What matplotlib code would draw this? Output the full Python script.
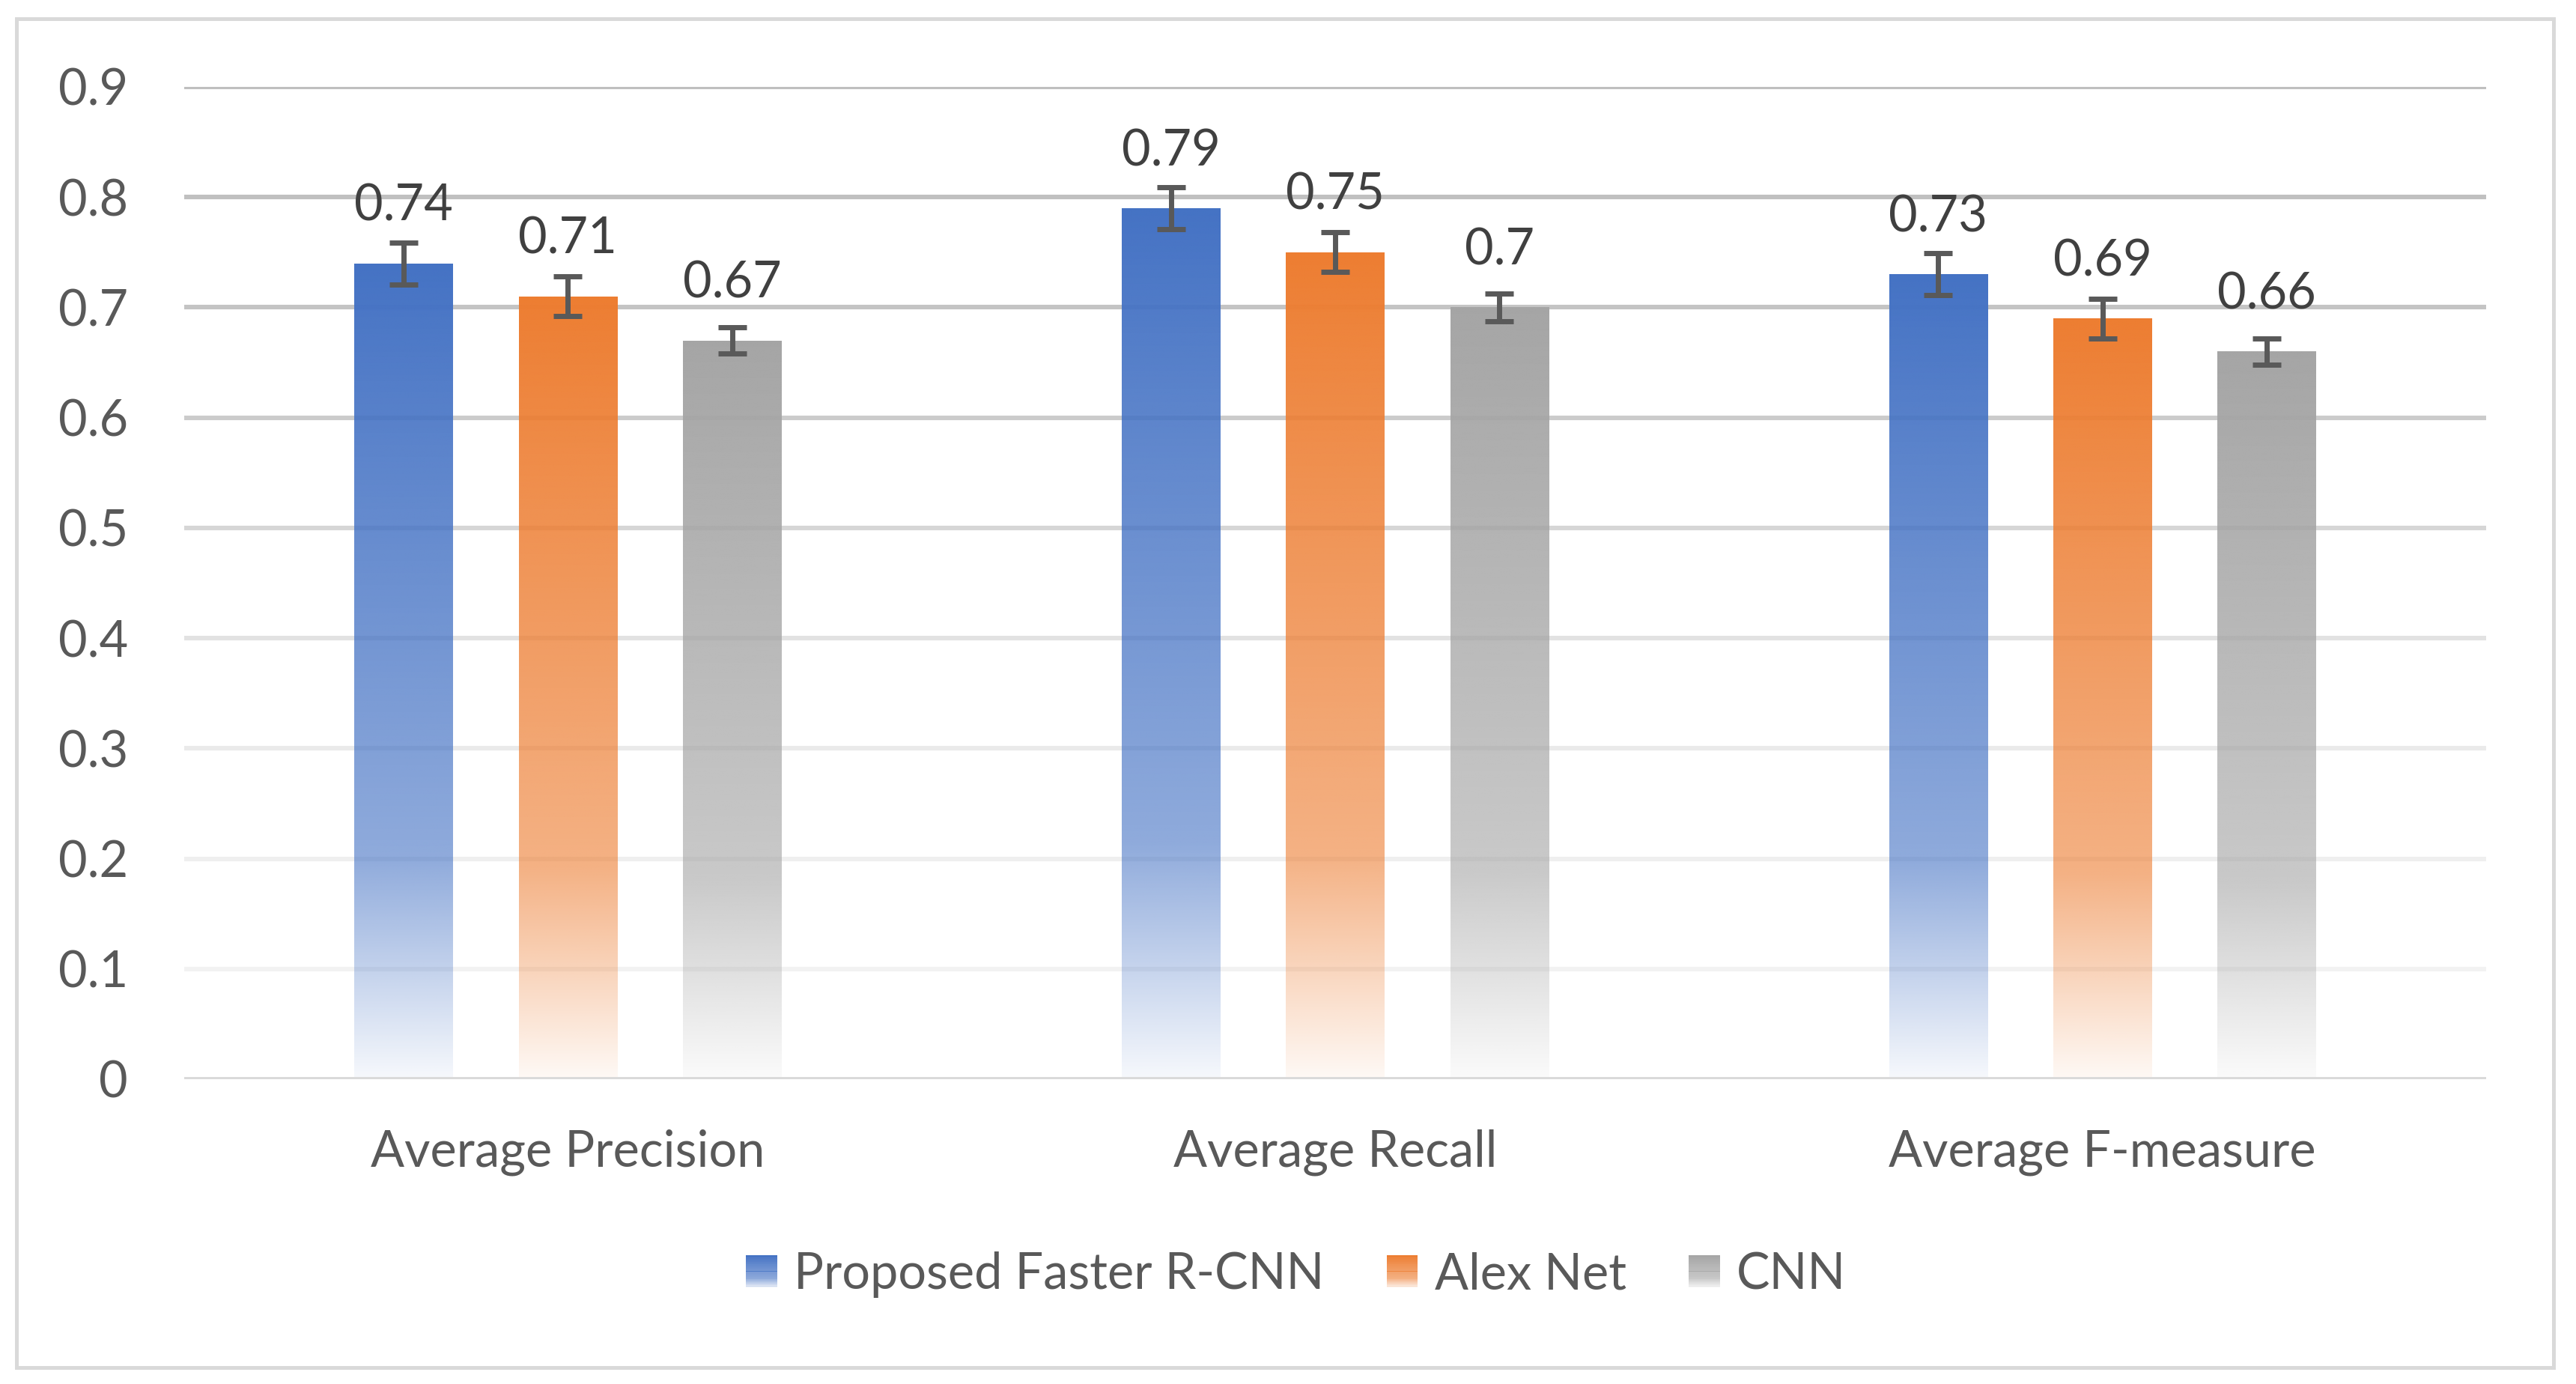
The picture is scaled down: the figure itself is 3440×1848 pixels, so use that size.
import numpy as np
import matplotlib
matplotlib.use('Agg')
import matplotlib.pyplot as plt
from matplotlib.patches import Rectangle, Patch
from matplotlib.legend_handler import HandlerBase
from matplotlib.ticker import FuncFormatter

plt.rcParams['font.family'] = ['Lato', 'DejaVu Sans']

categories = ['Average Precision', 'Average Recall', 'Average F-measure']
series = ['Proposed Faster R-CNN', 'Alex Net', 'CNN']
faster_rcnn = [0.74, 0.79, 0.73]
alex_net = [0.71, 0.75, 0.69]
cnn = [0.67, 0.70, 0.66]
faster_rcnn_err = [0.019, 0.019, 0.019]
alex_net_err = [0.018, 0.018, 0.018]
cnn_err = [0.012, 0.0125, 0.012]
yticks = [0, 0.1, 0.2, 0.3, 0.4, 0.5, 0.6, 0.7, 0.8, 0.9]

colors = ['#4472C4', '#ED7D31', '#A5A5A5']
# gridline shades fade towards the bottom (0.1 .. 0.9)
grid_grays = [242, 239, 234, 226, 214, 203, 196, 192, 191]

FS = 24
DPI = 200


def alpha_at(t):
    # t = 0 at top of bar, 1 at bottom
    return np.interp(t, [0, 0.73, 1.0], [1.0, 0.6, 0.05])


class GradientHandler(HandlerBase):
    def create_artists(self, legend, orig_handle, xdescent, ydescent,
                       width, height, fontsize, trans):
        col = orig_handle.get_facecolor()[:3]
        n = 24
        arts = []
        for i in range(n):
            t = (i + 0.5) / n
            y0 = -ydescent + height * (1 - (i + 1) / n)
            r = Rectangle((-xdescent, y0), width, height / n * 1.05,
                          facecolor=col, alpha=float(alpha_at(t)),
                          edgecolor='none', transform=trans)
            arts.append(r)
        return arts


fig = plt.figure(figsize=(3441 / DPI, 1848 / DPI), dpi=DPI)
ax = fig.add_axes([246 / 3441, 1 - 1441 / 1848, (3320 - 246) / 3441, (1441 - 116) / 1848])

# outer chart border
fig.patches.append(Rectangle((22 / 3441, 1 - 1826 / 1848), (3410 - 22) / 3441, (1826 - 25) / 1848,
                             transform=fig.transFigure, fill=False, edgecolor='#D9D9D9',
                             linewidth=1.8))

x = np.arange(len(categories))
width = 0.128
offsets = [-0.214, 0, 0.214]
values = [faster_rcnn, alex_net, cnn]
errors = [faster_rcnn_err, alex_net_err, cnn_err]

for yv, g in zip(yticks[1:], grid_grays):
    ax.axhline(yv, color=(g / 255, g / 255, g / 255), linewidth=2.2, zorder=0)
ax.axhline(0, color='#D9D9D9', linewidth=2.1, zorder=4)

grad = np.linspace(1, 0, 256)  # row 0 at bottom -> t = 1
for vals, errs, off, col in zip(values, errors, offsets, colors):
    bars = ax.bar(x + off, vals, width, facecolor='none', edgecolor='none', zorder=2)
    rgb = matplotlib.colors.to_rgb(col)
    for b in bars:
        img = np.zeros((256, 1, 4))
        img[:, 0, :3] = rgb
        img[:, 0, 3] = alpha_at(grad)
        x0 = b.get_x()
        im = ax.imshow(img, extent=[x0, x0 + b.get_width(), 0, b.get_height()],
                       origin='lower', aspect='auto', zorder=2, interpolation='bilinear')
        im.set_clip_path(b)
    ax.errorbar(x + off, vals, yerr=errs, fmt='none', ecolor='#595959',
                elinewidth=2.5, capsize=6.7, capthick=2.5, zorder=5)
    for xi, v in zip(x + off, vals):
        ax.annotate('%g' % v, (xi, v), xytext=(0, 20.5), textcoords='offset points',
                    ha='center', va='baseline', fontsize=FS, color='#404040', zorder=6)

ax.set_xlim(-0.5, 2.5)
ax.set_ylim(0, 0.9)
ax.set_yticks(yticks)
ax.yaxis.set_major_formatter(FuncFormatter(lambda v, p: '%g' % round(v, 1)))
ax.set_xticks(x)
ax.set_xticklabels(categories)
ax.tick_params(axis='both', length=0, labelsize=FS, labelcolor='#595959')
ax.tick_params(axis='y', pad=27)
ax.tick_params(axis='x', pad=24)
for s in ax.spines.values():
    s.set_visible(False)

handles = [Patch(facecolor=c) for c in colors]
fig.legend(handles, series, loc='center', bbox_to_anchor=(0.503, 1 - 1702 / 1848),
           ncol=3, frameon=False, fontsize=FS, labelcolor='#595959',
           handler_map={Patch: GradientHandler()},
           handlelength=0.62, handleheight=0.63, handletextpad=0.34, columnspacing=1.25)

fig.savefig('out.png', dpi=DPI, facecolor='white')
